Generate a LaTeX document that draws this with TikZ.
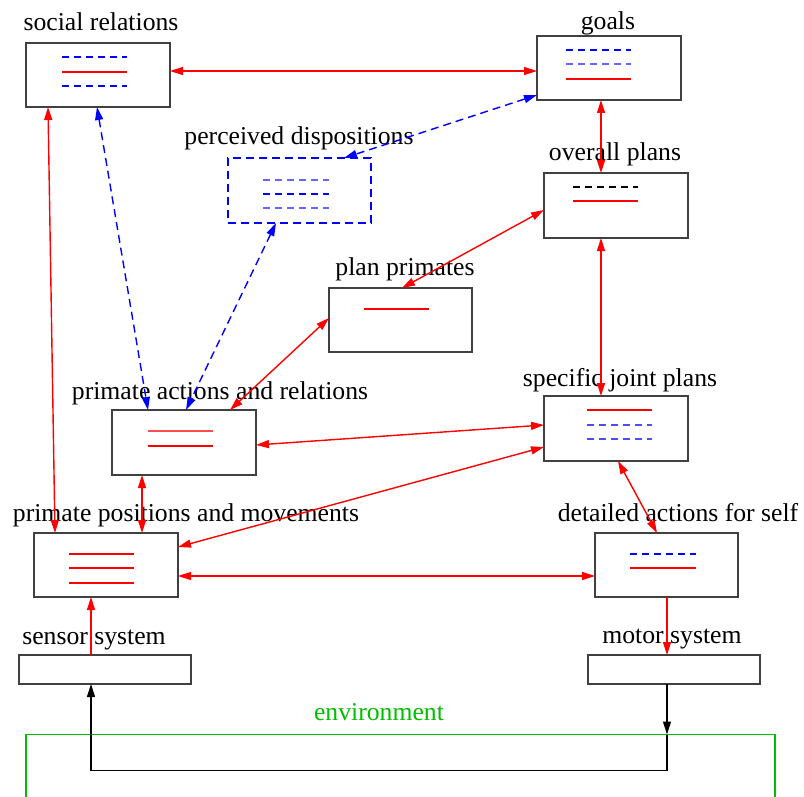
\documentclass[tikz,border=0pt]{standalone}
\usepackage{fontspec}
\setmainfont{Liberation Serif}
\usetikzlibrary{arrows.meta}
\definecolor{envgreen}{RGB}{0,190,0}
\begin{document}
\begin{tikzpicture}[x=1pt,y=-1pt,
  every node/.style={font=\fontsize{25.7}{30}\selectfont, inner sep=0pt, outer sep=0pt},
  box/.style={draw=black!75, line width=1.3pt, rectangle, minimum width=144pt, minimum height=64pt},
  iobox/.style={draw=black!75, line width=1.3pt, rectangle, minimum width=172pt, minimum height=29pt},
  lbl/.style={anchor=base},
  tip/.style={line width=1.4pt, {Triangle[length=13pt,width=8pt]}-{Triangle[length=13pt,width=8pt]}},
  onetip/.style={line width=1.4pt, -{Triangle[length=13pt,width=8pt]}},
  rlink/.style={tip, red},
  blink/.style={tip, blue, dash pattern=on 8pt off 5pt},
  dsh/.style={dash pattern=on 7pt off 5pt},
  stroke/.style={line width=1.2pt}
]
\path[use as bounding box] (0,0) rectangle (804,797);

% boxes
\node[box] (soc) at (98,75) {};
\node[box] (goals) at (609,68) {};
\node[box, dash pattern=on 8pt off 5pt, draw=blue, minimum width=143pt, minimum height=65pt] (perc) at (299.5,190.5) {};
\node[box, minimum height=65pt] (overall) at (616,205.5) {};
\node[box, minimum width=143pt] (planp) at (400.5,320) {};
\node[box, minimum height=65pt] (act) at (184,442.5) {};
\node[box, minimum height=65pt] (spec) at (616,428.5) {};
\node[box] (pos) at (106,565) {};
\node[box, minimum width=143pt] (det) at (666.5,565) {};
\node[iobox] (sensor) at (105,669.5) {};
\node[iobox] (motor) at (674,669.5) {};

% labels
\node[lbl] (socl) at (101,31) {social relations};
\node[lbl] (goalsl) at (608,30) {goals};
\node[lbl] (percl) at (299,145) {perceived dispositions};
\node[lbl] (overalll) at (615,161) {overall plans};
\node[lbl] (planpl) at (405,276) {plan primates};
\node[lbl] (actl) at (220,399) {primate actions and relations};
\node[lbl] (specl) at (620,386) {specific joint plans};
\node[lbl] (posl) at (186,521) {primate positions and movements};
\node[lbl] (detl) at (678,521) {detailed actions for self};
\node[lbl] (sensorl) at (94,644) {sensor system};
\node[lbl] (motorl) at (672,643) {motor system};
\node[lbl, text=envgreen] (envl) at (379,720) {environment};

% environment frame (open towards the bottom edge)
\draw[envgreen, line width=1.2pt] (26,800) -- (26,734.5) -- (775,734.5) -- (775,800);

% strokes inside the boxes
\draw[stroke, blue, dsh] (62,57) -- (127,57);
\draw[stroke, red] (62,72) -- (127,72);
\draw[stroke, blue, dsh] (62,86) -- (127,86);

\draw[stroke, blue, dsh] (566,50) -- (631,50);
\draw[stroke, blue!60, dsh] (566,64) -- (631,64);
\draw[stroke, red] (566,79) -- (631,79);

\draw[stroke, blue!60, dsh] (263,180) -- (329,180);
\draw[stroke, blue, dsh] (263,194) -- (329,194);
\draw[stroke, blue!60, dsh] (263,208) -- (329,208);

\draw[stroke, black, dsh] (573,187) -- (638,187);
\draw[stroke, red] (573,201) -- (638,201);

\draw[stroke, red] (364,309) -- (429,309);

\draw[stroke, red!70] (148,431) -- (213,431);
\draw[stroke, red] (148,446) -- (213,446);

\draw[stroke, red] (587,410) -- (652,410);
\draw[stroke, blue!70, dsh] (587,425) -- (652,425);
\draw[stroke, blue!70, dsh] (587,439) -- (652,439);

\draw[stroke, red] (69,554) -- (134,554);
\draw[stroke, red] (69,568) -- (134,568);
\draw[stroke, red] (69,583) -- (134,583);

\draw[stroke, blue, dsh] (630,554) -- (696,554);
\draw[stroke, red] (630,568) -- (696,568);

% connectors
\draw[rlink] ([yshift=4pt]soc.east) -- ([yshift=-3pt]goals.west);
\draw[rlink] ([xshift=-8pt]goals.south) -- ([xshift=-15pt]overall.north);
\draw[blink] ([yshift=5pt]goals.south west) -- ([xshift=44.5pt]perc.north);
\draw[blink] ([xshift=-1pt]soc.south) -- ([xshift=36pt]act.north west);
\draw[blink] ([xshift=-23.5pt]perc.south) -- ([xshift=2pt]act.north);
\draw[rlink] ([xshift=22pt]soc.south west) -- ([xshift=21pt]pos.north west);
\draw[rlink] ([yshift=-4.5pt]overall.west) -- ([xshift=1.5pt]planp.north);
\draw[rlink] ([xshift=-15pt]overall.south) -- ([xshift=-15pt]spec.north);
\draw[rlink] ([yshift=2pt]planp.west) -- ([xshift=-26pt]act.north east);
\draw[rlink] ([yshift=-2.5pt]act.east) -- ([yshift=3.5pt]spec.west);
\draw[rlink] ([xshift=30pt]act.south west) -- ([xshift=108pt]pos.north west);
\draw[rlink] ([yshift=-18.5pt]spec.west) -- ([yshift=18pt]pos.east);
\draw[rlink] ([xshift=2pt]spec.south) -- ([xshift=-9.5pt]det.north);
\draw[rlink] ([yshift=-11pt]pos.east) -- ([yshift=-11pt]det.west);
\draw[onetip, red] ([xshift=-14pt]sensor.north) -- ([xshift=-15pt]pos.south);
\draw[onetip, red] ([xshift=0.5pt]det.south) -- ([xshift=-7pt]motor.north);

% loop through the environment
\coordinate (envin) at (667,734.5);
\draw[onetip, black, line width=1.1pt] ([xshift=-7pt]motor.south) -- (envin);
\draw[onetip, black, line width=1.1pt] (envin) -- (667,770.5) -- (91,770.5) -- ([xshift=-14pt]sensor.south);
\end{tikzpicture}
\end{document}
